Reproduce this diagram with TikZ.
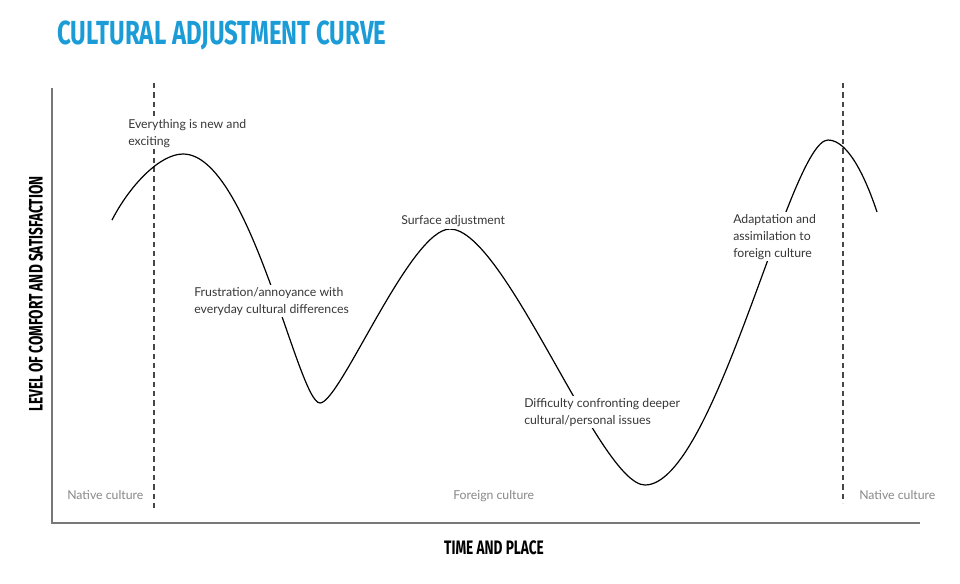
\documentclass[tikz,border=0pt]{standalone}
\usepackage{fontspec}
\setmainfont{Lato}
\newfontfamily\headfont[FakeStretch=0.72]{Fira Sans}
\newfontfamily\axisfont[FakeStretch=0.70]{Fira Sans}
\usetikzlibrary{positioning}
\definecolor{titleblue}{RGB}{28,156,214}
\definecolor{axisgray}{RGB}{120,120,120}
\definecolor{bordergray}{RGB}{70,70,70}
\definecolor{notegray}{RGB}{55,55,55}
\definecolor{placegray}{RGB}{135,135,135}
\tikzset{
  axisline/.style={draw=axisgray, line width=1.6pt},
  borderline/.style={draw=bordergray, line width=0.95pt, dash pattern=on 4pt off 3pt},
  curveline/.style={line width=0.9pt},
  stagenote/.style={fill=white, align=left, text=notegray, font=\fontsize{9.2}{12.7}\selectfont, inner sep=1.5pt, anchor=north west},
  placenote/.style={text=placegray, font=\fontsize{9.2}{12.7}\selectfont, inner sep=0pt, anchor=base west},
  axistitle/.style={font=\axisfont\bfseries\fontsize{14.6}{14.6}\selectfont, inner sep=0pt}
}

\begin{document}
\begin{tikzpicture}[x=0.75pt, y=-0.75pt]
  \useasboundingbox (0,0) rectangle (960,583);

  % title
  \node[anchor=west, text=titleblue, font=\headfont\bfseries\fontsize{25}{25}\selectfont, inner sep=0pt] (heading) at (57,35) {CULTURAL ADJUSTMENT CURVE};

  % axes
  \coordinate (ytop) at (52,88);
  \coordinate (origin) at (52,523);
  \coordinate (xend) at (920,523);
  \draw[axisline] (ytop) -- (origin) -- (xend);
  \node[axistitle, rotate=90] (ylabel) at (36,294) {LEVEL OF COMFORT AND SATISFACTION};
  \node[axistitle] (xlabel) at (494,548) {TIME AND PLACE};

  % culture borders
  \coordinate (leavetop) at (154,83);
  \coordinate (leavebot) at (154,508);
  \coordinate (returntop) at (843,83);
  \coordinate (returnbot) at (843,503);
  \draw[borderline] (leavetop) -- (leavebot);
  \draw[borderline] (returntop) -- (returnbot);

  % adjustment curve
  \draw[curveline] (112,220) .. controls (130,185) and (160,154) .. (183,154)
    .. controls (250,154) and (298,403) .. (320,403)
    .. controls (340,403) and (410,229) .. (450,229)
    .. controls (505,229) and (600,485) .. (645,485)
    .. controls (715,485) and (790,140) .. (828,140)
    .. controls (850,140) and (868,185) .. (877,212);

  % stages
  \node[stagenote] (honeymoon) at (126,117) {Everything is new and\\exciting};
  \node[stagenote] (surface) at (399,213) {Surface adjustment};
  \node[stagenote] (frustration) at (192,285) {Frustration/annoyance with\\everyday cultural differences};
  \node[stagenote] (deeper) at (522,396) {Difficulty confronting deeper\\cultural/personal issues};
  \node[stagenote] (adaptation) at (731,212) {Adaptation and\\assimilation to\\foreign culture};

  % places
  \node[placenote] (nativeleft) at (67,499) {Native culture};
  \node[placenote] (foreign) at (453,499) {Foreign culture};
  \node[placenote] (nativeright) at (859,499) {Native culture};
\end{tikzpicture}
\end{document}
